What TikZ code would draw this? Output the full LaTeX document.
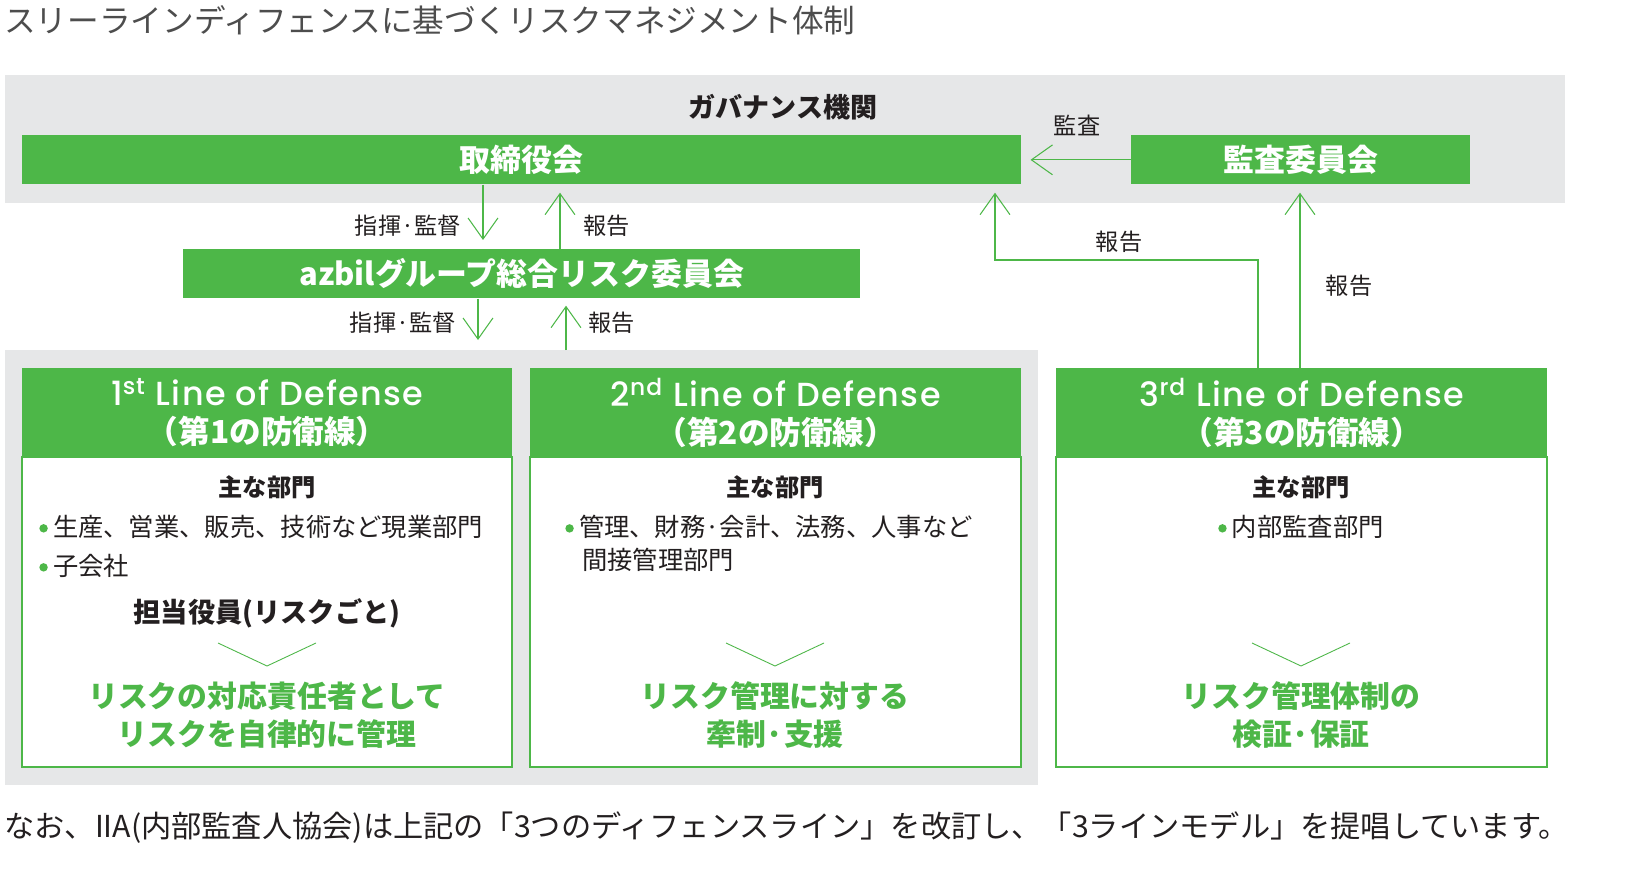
\documentclass[tikz,border=0pt]{standalone}
\usepackage{fontspec}
\setmainfont{Noto Sans CJK JP}
\newfontfamily\latinfont{Poppins}[UprightFont={* Medium}, LetterSpace=4]
\usepackage{tikz}
\usetikzlibrary{arrows.meta,calc,positioning}
\definecolor{azgreen}{HTML}{4DB748}
\definecolor{bandgray}{HTML}{E6E7E8}
\definecolor{ink}{HTML}{231F20}
\definecolor{titlegray}{HTML}{4D4D4D}
\newcommand{\fs}[1]{\fontsize{#1}{1.25\dimexpr#1\relax}\selectfont}
\newcommand{\gdot}{\tikz[baseline=-0.6ex]\fill[azgreen] (0,0) circle[radius=2.4pt];\hspace{3pt}}
\newcommand{\lod}[2]{{\latinfont\mdseries\fontsize{19pt}{21.6pt}\selectfont #1\textsuperscript{#2} Line of Defense}}

\tikzset{
  greenbox/.style={fill=azgreen, text=white, inner sep=0pt, anchor=north west,
    font=\bfseries\fs{17.6pt}},
  headbox/.style={greenbox, minimum width=9.8cm, minimum height=1.78cm, align=center,
    font=\bfseries\fontsize{18pt}{21.6pt}\selectfont},
  bodyline/.style={draw=azgreen, fill=white, line width=0.8pt},
  arr/.style={draw=azgreen, line width=0.6pt,
    -{Straight Barb[length=12pt,width=17pt,line width=0.6pt]}},
  lbl/.style={text=ink, inner sep=0pt, font=\fs{13.2pt}},
  item/.style={text=ink, inner sep=0pt, anchor=west, font=\fs{14.4pt}},
  subhead/.style={text=ink, inner sep=0pt, font=\bfseries\fs{13.8pt}},
  result/.style={text=azgreen, inner sep=0pt, align=center,
    font=\bfseries\fontsize{17pt}{21.6pt}\selectfont},
  chev/.style={draw=azgreen, line width=0.5pt}
}

\begin{document}
\begin{tikzpicture}[x=0.02cm,y=-0.02cm]
  \useasboundingbox (0,0) rectangle (1633,885);
  % backgrounds
  \fill[bandgray] (5,75) rectangle (1565,203);
  \fill[bandgray] (5,350) rectangle (1038,785);
  \node[anchor=west, inner sep=0pt, text=titlegray, font=\fs{18pt}] (title) at (4,20)
    {スリーラインディフェンスに基づくリスクマネジメント体制};
  \node[inner sep=0pt, text=ink, font=\bfseries\fs{15.4pt}] (gov) at (783,107) {ガバナンス機関};

  % governance boxes
  \node[greenbox, minimum width=19.98cm, minimum height=0.98cm] (board) at (22,135) {取締役会};
  \node[greenbox, minimum width=6.78cm, minimum height=0.98cm] (audit) at (1131,135) {監査委員会};
  \node[greenbox, minimum width=13.54cm, minimum height=0.98cm] (risk) at (183,249)
    {azbilグループ総合リスク委員会};

  % three lines
  \draw[bodyline] (22,457) rectangle (512,767);
  \draw[bodyline] (530,457) rectangle (1021,767);
  \draw[bodyline] (1056,457) rectangle (1547,767);
  \node[headbox] (h1) at (22,368) {\lod{1}{st}\\（第1の防衛線）};
  \node[headbox, minimum width=9.82cm] (h2) at (530,368) {\lod{2}{nd}\\（第2の防衛線）};
  \node[headbox, minimum width=9.82cm] (h3) at (1056,368) {\lod{3}{rd}\\（第3の防衛線）};

  % 1st line
  \node[subhead] (m1) at (267,487) {主な部門};
  \node[item] (a1) at (39,527) {\gdot 生産、営業、販売、技術など現業部門};
  \node[item] (b1) at (39,566) {\gdot 子会社};
  \node[subhead, font=\bfseries\fs{15.5pt}] (o1) at (267,613) {担当役員(リスクごと)};
  \draw[chev] (218,643) -- (267,666) -- (316,643);
  \node[result] (r1) at (267,715) {リスクの対応責任者として\\リスクを自律的に管理};

  % 2nd line
  \node[subhead] (m2) at (775,487) {主な部門};
  \node[item] (a2) at (565,527) {\gdot 管理、財務·会計、法務、人事など};
  \node[item] (b2) at (582,560) {間接管理部門};
  \draw[chev] (726,643) -- (775,666) -- (824,643);
  \node[result] (r2) at (775,715) {リスク管理に対する\\牽制·支援};

  % 3rd line
  \node[subhead] (m3) at (1301,487) {主な部門};
  \node[item, anchor=center] (a3) at (1301,527) {\gdot 内部監査部門};
  \draw[chev] (1252,643) -- (1301,666) -- (1350,643);
  \node[result] (r3) at (1301,715) {リスク管理体制の\\検証·保証};

  % connectors
  \draw[arr, shorten >=9*0.02cm] (audit.west) -- (board.east);
  \node[lbl] at (1077,125) {監査};
  \draw[arr, shorten >=9*0.02cm] (board.south -| 483,0) -- (risk.north -| 483,0);
  \draw[arr, shorten >=8*0.02cm] (risk.north -| 560,0) -- (board.south -| 560,0);
  \node[lbl, anchor=east] at (461,226) {指揮·監督};
  \node[lbl, anchor=west] at (583,226) {報告};
  \draw[arr, shorten >=10*0.02cm] (risk.south -| 478,0) -- (478,350);
  \draw[arr, shorten >=7*0.02cm] (566,350) -- (risk.south -| 566,0);
  \node[lbl, anchor=east] at (456,323) {指揮·監督};
  \node[lbl, anchor=west] at (588,323) {報告};
  \draw[arr, shorten >=8*0.02cm] (h3.north -| 1258,0) |- (995,260) -- (board.south -| 995,0);
  \node[lbl] at (1119,242) {報告};
  \draw[arr, shorten >=8*0.02cm] (h3.north -| 1300,0) -- (audit.south -| 1300,0);
  \node[lbl] at (1349,286) {報告};

  \node[anchor=west, inner sep=0pt, text=ink, font=\fs{17.2pt}] (note) at (4,828)
    {なお、IIA(内部監査人協会)は上記の「3つのディフェンスライン」を改訂し、「3ラインモデル」を提唱しています。};
\end{tikzpicture}
\end{document}
